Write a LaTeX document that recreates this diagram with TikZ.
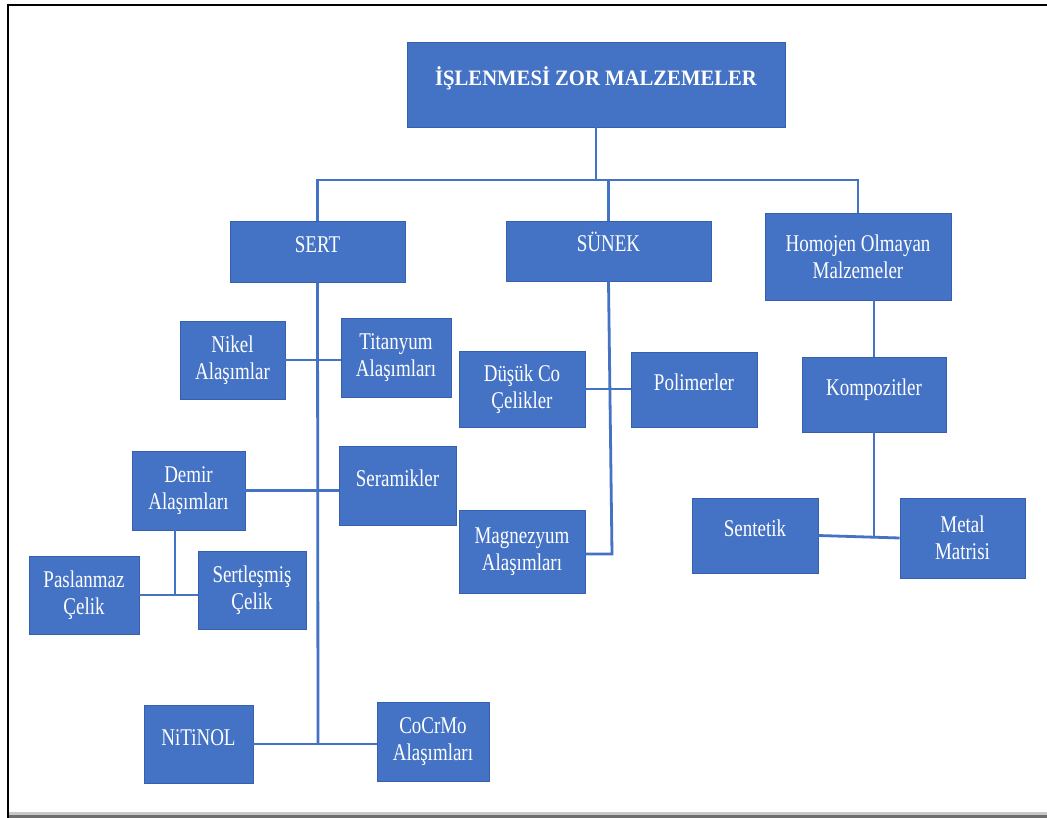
\documentclass[tikz,border=0pt]{standalone}
\usepackage{fontspec}
\setmainfont{Liberation Serif}[FakeStretch=0.79]
\newfontfamily\headfont{Liberation Serif}[FakeStretch=0.94]
\definecolor{boxblue}{HTML}{4472C4}
\definecolor{boxedge}{HTML}{3560AE}
\definecolor{shadelight}{HTML}{C8C8C8}
\definecolor{shadedark}{HTML}{6E6E6E}
\begin{document}
\begin{tikzpicture}[x=1pt,y=-1pt,
  box/.style={draw=boxedge, line width=0.8pt, fill=boxblue, text=white,
    align=center, inner sep=0pt,
    font=\fontsize{24}{27}\selectfont},
  oneline/.style={text height=16pt, text depth=14pt},
  link/.style={draw=boxblue, line width=2.8pt}
]
\useasboundingbox (0,0) rectangle (1047,818);
\fill[white] (0,0) rectangle (1047,818);

% page frame
\fill[shadelight] (8,812) rectangle (1047,815);
\fill[shadedark] (8,815) rectangle (1047,818);
\draw[black, line width=2pt] (8,818) -- (8,5) -- (1047,5);

% nodes
\node[box, oneline, minimum width=378pt, minimum height=85pt,
  font=\fontsize{22}{26}\selectfont\headfont\bfseries] (root) at (596,84.5) {İŞLENMESİ ZOR MALZEMELER};
\node[box, oneline, minimum width=175pt, minimum height=61pt] (sert) at (317.5,251.5) {SERT};
\node[box, oneline, minimum width=205pt, minimum height=60pt] (sunek) at (608.5,251) {SÜNEK};
\node[box, minimum width=186pt, minimum height=87pt] (homojen) at (858,256.5) {Homojen Olmayan\\Malzemeler};

\node[box, minimum width=105pt, minimum height=78pt] (nikel) at (232.5,360) {Nikel\\Alaşımlar};
\node[box, minimum width=110pt, minimum height=79pt] (titanyum) at (396,357.5) {Titanyum\\Alaşımları};
\node[box, minimum width=126pt, minimum height=76pt] (dusuk) at (522,389) {Düşük Co\\Çelikler};
\node[box, oneline, minimum width=126pt, minimum height=75pt] (polimer) at (694,389.5) {Polimerler};
\node[box, oneline, minimum width=144pt, minimum height=75pt] (kompozit) at (874,394.5) {Kompozitler};

\node[box, minimum width=113pt, minimum height=79pt] (demir) at (188.5,490.5) {Demir\\Alaşımları};
\node[box, oneline, minimum width=117pt, minimum height=79pt] (seramik) at (397.5,485.5) {Seramikler};
\node[box, minimum width=126pt, minimum height=83pt] (magnezyum) at (522,551.5) {Magnezyum\\Alaşımları};
\node[box, oneline, minimum width=126pt, minimum height=75pt] (sentetik) at (755,535.5) {Sentetik};
\node[box, minimum width=125pt, minimum height=80pt] (metal) at (962.5,538) {Metal\\Matrisi};

\node[box, minimum width=110pt, minimum height=78pt] (paslanmaz) at (84,595) {Paslanmaz\\Çelik};
\node[box, minimum width=108pt, minimum height=78pt] (sertlesmis) at (252,590) {Sertleşmiş\\Çelik};

\node[box, oneline, minimum width=109pt, minimum height=78pt] (nitinol) at (198.5,744) {NiTiNOL};
\node[box, minimum width=112pt, minimum height=79pt] (cocrmo) at (433,741.5) {CoCrMo\\Alaşımları};

% junction points of the connectors
\coordinate (bus) at (0,180);
\coordinate (sertend) at (318,743);
\coordinate (sunekend) at (612,554);
\coordinate (demirjoin) at (175,595);
\coordinate (kompend) at (874,537);

% top level
\draw[link] (root.south) -- (root.south |- bus);
\draw[link] (sert.north) -- (sert.north |- bus) -- (homojen.north |- bus) -- (homojen.north);
\draw[link] (sunek.north) -- (sunek.north |- bus);

% SERT branch
\draw[link] (sert.south) -- (sertend);
\draw[link] (nikel.east) -- (nikel.east -| titanyum.west);
\draw[link] (demir.east) -- (seramik.west |- demir.east);
\draw[link] (demir.south -| demirjoin) -- (demirjoin);
\draw[link] (paslanmaz.east) -- (paslanmaz.east -| sertlesmis.west);
\draw[link] (nitinol.east) -- (nitinol.east -| cocrmo.west);

% SÜNEK branch
\draw[link] (sunek.south) -- (sunekend) -- (sunekend -| magnezyum.east);
\draw[link] (dusuk.east) -- (dusuk.east -| polimer.west);

% Homojen Olmayan Malzemeler branch
\draw[link] (kompozit.north) -- (kompozit.north |- homojen.south);
\draw[link] (kompozit.south) -- (kompend);
\draw[link] (sentetik.east) -- (metal.west);
\end{tikzpicture}
\end{document}
